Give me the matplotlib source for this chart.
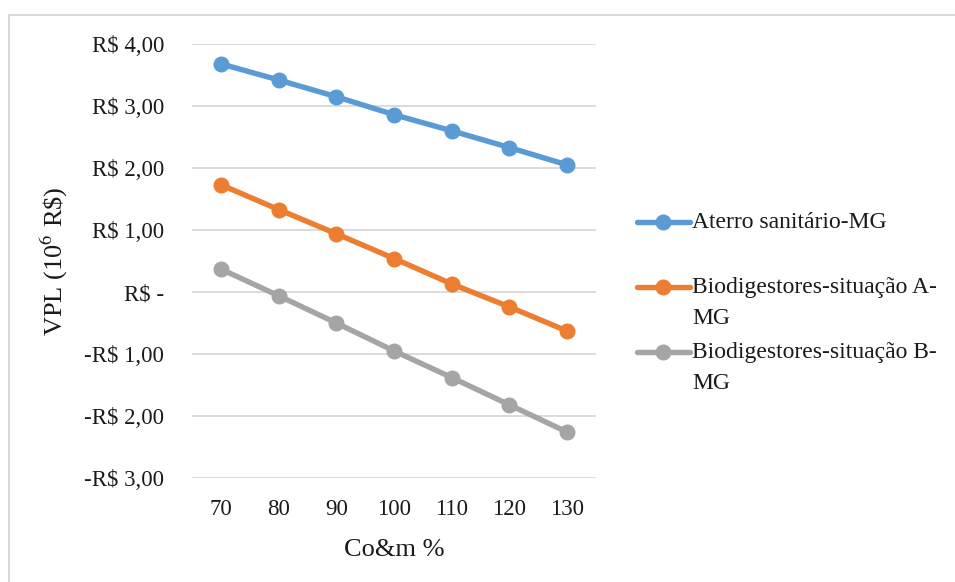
import matplotlib
matplotlib.use("Agg")
import matplotlib.pyplot as plt
from matplotlib.lines import Line2D
from matplotlib.patches import Rectangle

# dados
comb = [70, 80, 90, 100, 110, 120, 130]
aterro = [3.68, 3.42, 3.15, 2.86, 2.60, 2.33, 2.05]
bio_a = [1.73, 1.33, 0.94, 0.54, 0.13, -0.24, -0.63]
bio_b = [0.37, -0.06, -0.50, -0.95, -1.38, -1.82, -2.26]
nomes = ["Aterro sanitário-MG", "Biodigestores-situação A-\nMG", "Biodigestores-situação B-\nMG"]
cores = ["#5B9BD5", "#ED7D31", "#A5A5A5"]
yticks = [4, 3, 2, 1, 0, -1, -2, -3]

plt.rcParams['font.family'] = ['Liberation Serif', 'DejaVu Serif']
plt.rcParams['mathtext.fontset'] = 'stix'

def fmt_rs(v):
    if v == 0:
        return "R$ -"
    s = f"R$ {abs(v):.2f}".replace(".", ",")
    return "-" + s if v < 0 else s

fig = plt.figure(figsize=(9.55, 5.82), dpi=100)
fig.patches.append(Rectangle((9 / 955, -0.5), 2, 0.5 + 1 - 15 / 582, transform=fig.transFigure,
                             fill=False, edgecolor="#D9D9D9", linewidth=1.5))
ax = fig.add_axes([192 / 955, 1 - 478 / 582, 404 / 955, 434 / 582])

xs = list(range(len(comb)))
for serie, cor in zip([aterro, bio_a, bio_b], cores):
    ax.plot(xs, serie, color=cor, linewidth=3.9, marker="o", markersize=10.5, solid_capstyle="round")

ax.set_xlim(-0.5, len(comb) - 0.5)
ax.set_ylim(-3, 4)
ax.set_xticks(xs)
ax.set_xticklabels([str(c) for c in comb])
ax.set_yticks(yticks)
ax.set_yticklabels([fmt_rs(v) for v in yticks])
ax.tick_params(axis="both", length=0, labelsize=16.5, colors="#1a1a1a")
ax.tick_params(axis="y", pad=20)
ax.tick_params(axis="x", pad=15)
ax.grid(axis="y", color="#D9D9D9", linewidth=1.3)
ax.set_axisbelow(True)
for s in ax.spines.values():
    s.set_visible(False)

ax.set_ylabel(r"VPL (10$^{6}$ R\$)", fontsize=19, color="#1a1a1a", labelpad=10)
ax.set_xlabel("Co&m %", fontsize=19, color="#1a1a1a", labelpad=14)

# legenda manual
leg_y = [222, 287, 352]
for nome, cor, yy in zip(nomes, cores, leg_y):
    fy = 1 - yy / 582
    fig.add_artist(Line2D([637 / 955, 690 / 955], [fy, fy], transform=fig.transFigure,
                          color=cor, linewidth=3.9, solid_capstyle="round"))
    fig.add_artist(Line2D([663 / 955], [fy], transform=fig.transFigure, color=cor,
                          marker="o", markersize=10.5))
    fig.text(692 / 955, fy + 10 / 582, nome, fontsize=17, va="top", ha="left",
             color="#1a1a1a", linespacing=1.6)

fig.savefig("out.png", dpi=100)
